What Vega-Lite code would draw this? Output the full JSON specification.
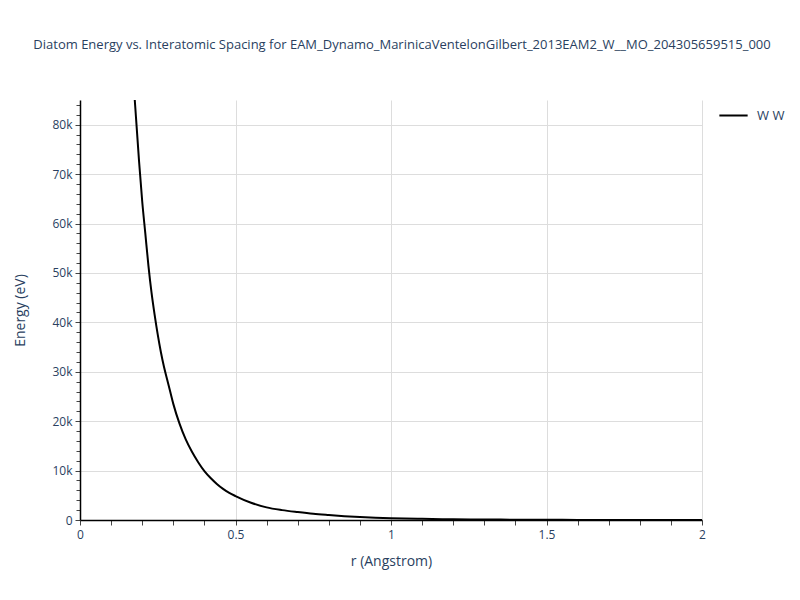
{
  "$schema": "https://vega.github.io/schema/vega-lite/v6.json",
  "width": 622,
  "height": 420,
  "autosize": {"type": "none"},
  "padding": {"left": 80, "top": 100, "right": 98, "bottom": 80},
  "background": "white",
  "title": {
    "text": "Diatom Energy vs. Interatomic Spacing for EAM_Dynamo_MarinicaVentelonGilbert_2013EAM2_W__MO_204305659515_000",
    "fontSize": 13,
    "font": "Open Sans",
    "fontWeight": "normal",
    "color": "#2a3f5f",
    "anchor": "middle",
    "dx": 11,
    "offset": 48
  },
  "config": {
    "view": {"stroke": null},
    "axis": {"labelFont": "Open Sans", "titleFont": "Open Sans", "labelColor": "#2a3f5f", "titleColor": "#2a3f5f", "titleFontWeight": "normal"}
  },
  "data": {"values": [
    {"r": 0.16, "E": 104000, "s": "W W"},
    {"r": 0.17, "E": 91000, "s": "W W"},
    {"r": 0.18, "E": 81500, "s": "W W"},
    {"r": 0.19, "E": 72500, "s": "W W"},
    {"r": 0.20, "E": 64500, "s": "W W"},
    {"r": 0.21, "E": 58000, "s": "W W"},
    {"r": 0.22, "E": 51500, "s": "W W"},
    {"r": 0.23, "E": 46000, "s": "W W"},
    {"r": 0.24, "E": 41500, "s": "W W"},
    {"r": 0.25, "E": 37500, "s": "W W"},
    {"r": 0.26, "E": 34000, "s": "W W"},
    {"r": 0.27, "E": 31000, "s": "W W"},
    {"r": 0.28, "E": 28500, "s": "W W"},
    {"r": 0.29, "E": 26000, "s": "W W"},
    {"r": 0.30, "E": 23500, "s": "W W"},
    {"r": 0.32, "E": 19500, "s": "W W"},
    {"r": 0.34, "E": 16300, "s": "W W"},
    {"r": 0.36, "E": 13800, "s": "W W"},
    {"r": 0.38, "E": 11700, "s": "W W"},
    {"r": 0.40, "E": 9900, "s": "W W"},
    {"r": 0.42, "E": 8500, "s": "W W"},
    {"r": 0.44, "E": 7300, "s": "W W"},
    {"r": 0.46, "E": 6300, "s": "W W"},
    {"r": 0.48, "E": 5500, "s": "W W"},
    {"r": 0.50, "E": 4850, "s": "W W"},
    {"r": 0.55, "E": 3500, "s": "W W"},
    {"r": 0.60, "E": 2550, "s": "W W"},
    {"r": 0.65, "E": 2000, "s": "W W"},
    {"r": 0.70, "E": 1600, "s": "W W"},
    {"r": 0.75, "E": 1250, "s": "W W"},
    {"r": 0.80, "E": 1000, "s": "W W"},
    {"r": 0.85, "E": 780, "s": "W W"},
    {"r": 0.90, "E": 600, "s": "W W"},
    {"r": 0.95, "E": 470, "s": "W W"},
    {"r": 1.0, "E": 370, "s": "W W"},
    {"r": 1.1, "E": 230, "s": "W W"},
    {"r": 1.2, "E": 150, "s": "W W"},
    {"r": 1.3, "E": 100, "s": "W W"},
    {"r": 1.4, "E": 65, "s": "W W"},
    {"r": 1.5, "E": 40, "s": "W W"},
    {"r": 1.6, "E": 25, "s": "W W"},
    {"r": 1.7, "E": 15, "s": "W W"},
    {"r": 1.8, "E": 8, "s": "W W"},
    {"r": 1.9, "E": 4, "s": "W W"},
    {"r": 2.0, "E": 1, "s": "W W"}
  ]},
  "resolve": {"axis": {"x": "independent", "y": "independent"}},
  "layer": [
    {
      "mark": {"type": "line", "strokeWidth": 0, "opacity": 0, "clip": true},
      "encoding": {
        "x": {"field": "r", "type": "quantitative", "scale": {"domain": [0, 2], "nice": false},
              "axis": {"orient": "bottom", "values": [0.1,0.2,0.3,0.4,0.6,0.7,0.8,0.9,1.1,1.2,1.3,1.4,1.6,1.7,1.8,1.9], "labels": false, "grid": false, "domain": false, "ticks": true, "tickSize": 5, "tickColor": "#444", "title": null}},
        "y": {"field": "E", "type": "quantitative", "scale": {"domain": [0, 85000], "nice": false},
              "axis": {"orient": "left", "values": [2000,4000,6000,8000,12000,14000,16000,18000,22000,24000,26000,28000,32000,34000,36000,38000,42000,44000,46000,48000,52000,54000,56000,58000,62000,64000,66000,68000,72000,74000,76000,78000,82000,84000], "labels": false, "grid": false, "domain": false, "ticks": true, "tickSize": 4, "tickColor": "#444", "title": null}}
      }
    },
    {
      "mark": {"type": "line", "strokeWidth": 2, "clip": true, "interpolate": "monotone"},
      "encoding": {
        "x": {"field": "r", "type": "quantitative", "scale": {"domain": [0, 2], "nice": false},
              "axis": {"orient": "bottom", "values": [0, 0.5, 1, 1.5, 2], "labelExpr": "format(datum.value, '~g')", "grid": true, "labelFontSize": 12, "labelPadding": 4, "tickSize": 5, "tickColor": "#444", "domainColor": "#000", "domainWidth": 1.5, "gridColor": "#dddddd", "title": "r (Angstrom)", "titleFontSize": 14, "titlePadding": 14, "labelFlush": false}},
        "y": {"field": "E", "type": "quantitative", "scale": {"domain": [0, 85000], "nice": false},
              "axis": {"orient": "left", "values": [0,10000,20000,30000,40000,50000,60000,70000,80000], "labelExpr": "datum.value == 0 ? '0' : format(datum.value, '~s')", "grid": true, "labelFontSize": 12, "labelPadding": 3, "tickSize": 5, "tickColor": "#444", "domainColor": "#000", "domainWidth": 1.5, "gridColor": "#dddddd", "title": "Energy (eV)", "titleFontSize": 14, "titlePadding": 24}},
        "color": {"field": "s", "type": "nominal", "scale": {"range": ["#000000"]},
                  "legend": {"title": null, "orient": "none", "legendX": 638, "legendY": 0, "symbolType": "stroke", "symbolSize": 800, "symbolStrokeWidth": 2, "labelOffset": 8, "labelFontSize": 13, "labelColor": "#2a3f5f", "labelFont": "Open Sans"}}
      }
    }
  ]
}
